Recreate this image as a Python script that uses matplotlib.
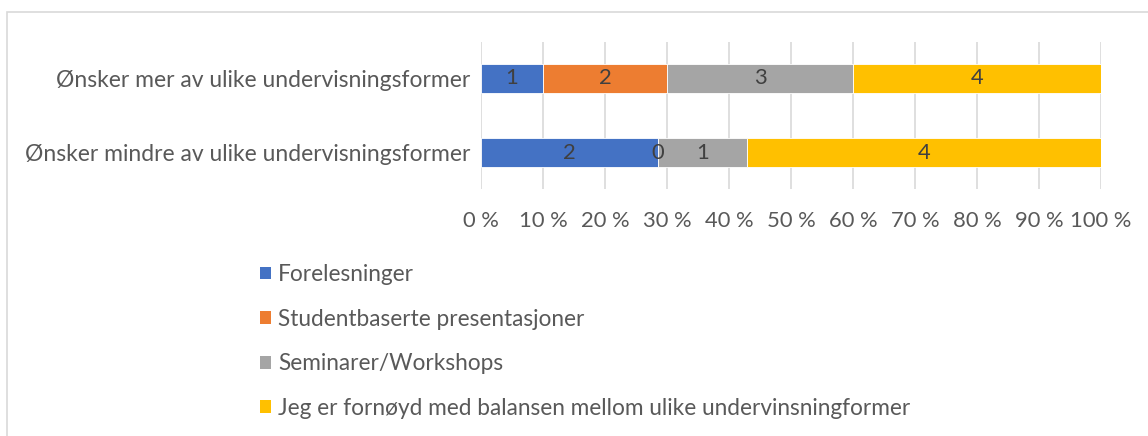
import matplotlib
matplotlib.use("Agg")
import matplotlib.pyplot as plt
from matplotlib.patches import Patch, Rectangle
import numpy as np

categories = ["Ønsker mer av ulike undervisningsformer",
              "Ønsker mindre av ulike undervisningsformer"]
series_names = ["Forelesninger",
                "Studentbaserte presentasjoner",
                "Seminarer/Workshops",
                "Jeg er fornøyd med balansen mellom ulike undervinsningformer"]
forelesninger = [1, 2]
studentbaserte = [2, 0]
seminarer = [3, 1]
fornoyd = [4, 4]
tick_labels = ["0 %", "10 %", "20 %", "30 %", "40 %", "50 %", "60 %", "70 %", "80 %", "90 %", "100 %"]

colors = ["#4472C4", "#ED7D31", "#A5A5A5", "#FFC000"]
text_color = "#595959"
label_color = "#404040"
FONT = ["Lato", "DejaVu Sans"]
plt.rcParams["font.family"] = FONT
FS = 15.8

W, H = 1148, 436
fig = plt.figure(figsize=(W / 100, H / 100), dpi=100)
ax = fig.add_axes([481 / W, 1 - 189 / H, 620 / W, 147 / H])

series = [forelesninger, studentbaserte, seminarer, fornoyd]
data = np.array(series, dtype=float)
totals = data.sum(axis=0)
pct = data / totals * 100
y = np.arange(len(categories))
left = np.zeros(len(categories))
for i, (vals, p) in enumerate(zip(data, pct)):
    ax.barh(y, p, left=left, height=0.40, color=colors[i], edgecolor="white",
            linewidth=0.6, zorder=2, label=series_names[i])
    for j in range(len(categories)):
        ax.text(left[j] + p[j] / 2, y[j], f"{int(vals[j])}", ha="center", va="center",
                fontsize=FS, color=label_color, zorder=3)
    left += p

ax.set_xlim(0, 100)
ax.set_ylim(1.49, -0.49)
ax.set_xticks(np.arange(0, 101, 10))
ax.set_xticklabels(tick_labels, fontsize=FS, color=text_color)
ax.set_yticks(y)
ax.set_yticklabels(categories, fontsize=16.5, color=text_color)
ax.tick_params(axis="both", length=0)
ax.tick_params(axis="x", pad=16)
ax.tick_params(axis="y", pad=8)
ax.grid(axis="x", color="#D9D9D9", linewidth=1.2, zorder=0)
ax.set_axisbelow(True)
for s in ax.spines.values():
    s.set_visible(False)

handles = [Patch(facecolor=c, edgecolor="none") for c in colors]
fig.legend(handles, series_names, loc="upper left",
           bbox_to_anchor=(260 / W, 1 - 264 / H), frameon=False,
           fontsize=16.3, labelcolor=text_color, handlelength=0.5, handleheight=0.5,
           handletextpad=0.3, labelspacing=1.04, borderaxespad=0, borderpad=0)

fig.patches.append(Rectangle((7 / W, -0.1), 1.2, 1 - 12 / H + 0.1, transform=fig.transFigure,
                             fill=False, edgecolor="#D9D9D9", linewidth=1.2))

fig.savefig("out.png", dpi=100)
